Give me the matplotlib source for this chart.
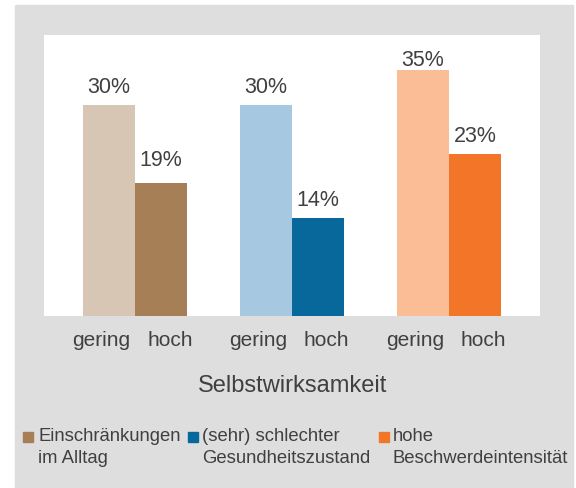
import numpy as np
import matplotlib.pyplot as plt
from matplotlib.patches import Rectangle

# data
series = ['Einschränkungen\nim Alltag', '(sehr) schlechter\nGesundheitszustand',
          'hohe\nBeschwerdeintensität']
gering = [30, 30, 35]
hoch = [19, 14, 23]
light_colors = ['#d8c6b4', '#a6c8e1', '#fbbd96']
dark_colors = ['#a67f56', '#08679b', '#f37528']
sub_labels = ['gering', 'hoch']
xlabel = 'Selbstwirksamkeit'

txt = '#404040'
plt.rcParams['font.family'] = ['Liberation Sans', 'DejaVu Sans']

fig = plt.figure(figsize=(5.76, 4.88), dpi=100)
fig.patches.append(Rectangle((15/576, 0), (573-15)/576, 1 - 5/488,
                             transform=fig.transFigure, color='#dedede', zorder=-10))

ax = fig.add_axes([44/576, 1 - 316/488, (540-44)/576, (316-35)/488])
ax.set_facecolor('white')

x = np.arange(len(series))
w = 1/3
b1 = ax.bar(x - w/2, gering, w, color=light_colors)
b2 = ax.bar(x + w/2, hoch, w, color=dark_colors)

# label gap above bar top in pixels (excel nudges some of them)
gaps1 = [12, 12, 4]
gaps2 = [17, 12, 12]
for bars, gaps in ((b1, gaps1), (b2, gaps2)):
    for r, g in zip(bars, gaps):
        ax.annotate(f'{r.get_height():.0f}%', (r.get_x() + r.get_width()/2, r.get_height()),
                    xytext=(0, g*0.72), textcoords='offset points', ha='center',
                    va='baseline', fontsize=15.5, color=txt)

ax.set_xlim(-0.58, 2.58)
ax.set_ylim(0, 40)
ax.set_yticks([])
ax.set_xticks([])
for s in ax.spines.values():
    s.set_visible(False)

# sub category labels under each group
trans = ax.get_xaxis_transform()
for xi in x:
    ax.text(xi - 5/157, -0.055, sub_labels[0], transform=trans, ha='right', va='top',
            fontsize=15, color=txt)
    ax.text(xi + 12/157, -0.055, sub_labels[1], transform=trans, ha='left', va='top',
            fontsize=15, color=txt)

fig.text(293/576, 1 - 386/488, xlabel, fontsize=17, color=txt, ha='center', va='center')

# legend drawn by hand
leg_x = [23, 188, 379]
txt_x = [38, 202, 393]
for lx, tx, lab, c in zip(leg_x, txt_x, series, dark_colors):
    fig.patches.append(Rectangle((lx/576, 1 - 442/488), 10/576, 10/488,
                                 transform=fig.transFigure, color=c))
    fig.text(tx/576, 1 - 428/488, lab, fontsize=13.3, color=txt,
             va='top', linespacing=1.38)

fig.savefig('out.png', dpi=100)
